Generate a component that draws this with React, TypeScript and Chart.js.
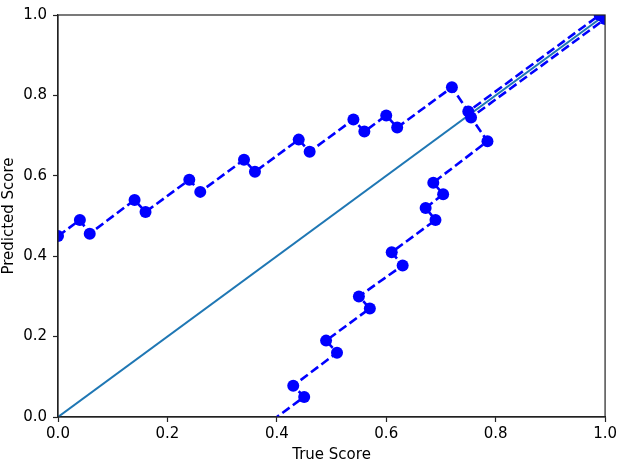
import React, { useEffect, useRef } from "react";
import { Chart, registerables } from "chart.js";

Chart.register(...registerables);

// Dashed trajectory (true score vs predicted score)
const trueScores = [
  0.0, 0.04, 0.058, 0.14, 0.16, 0.24, 0.26, 0.34, 0.36, 0.44, 0.46, 0.54, 0.56, 0.6, 0.62,
  0.72, 0.75, 0.99, 1.0, 0.755, 0.785, 0.686, 0.704, 0.672, 0.69, 0.61, 0.63, 0.55, 0.57,
  0.49, 0.51, 0.43, 0.45, 0.4,
];
const predScores = [
  0.45, 0.49, 0.456, 0.54, 0.51, 0.59, 0.56, 0.64, 0.61, 0.69, 0.66, 0.74, 0.71, 0.75, 0.72,
  0.82, 0.76, 1.0, 0.99, 0.745, 0.686, 0.583, 0.554, 0.52, 0.49, 0.41, 0.377, 0.3, 0.27,
  0.19, 0.16, 0.078, 0.05, 0.0,
];
// Reference diagonal
const diagX = [0, 1];
const diagY = [0, 1];
const tickValues = [0, 0.2, 0.4, 0.6, 0.8, 1.0];

const FONT = "'DejaVu Sans', sans-serif";
const SPINE = "#222";

const framePlugin = {
  id: "frame",
  afterDatasetsDraw(chart: any) {
    const { ctx, chartArea } = chart;
    ctx.save();
    ctx.strokeStyle = SPINE;
    ctx.lineWidth = 1.2;
    ctx.strokeRect(chartArea.left, chartArea.top, chartArea.right - chartArea.left, chartArea.bottom - chartArea.top);
    ctx.restore();
  },
};

export default function App() {
  const ref = useRef<HTMLCanvasElement | null>(null);

  useEffect(() => {
    document.body.style.margin = "0";
    const canvas = ref.current;
    if (!canvas) return;
    const pathData = trueScores.map((x, i) => ({ x, y: predScores[i] }));
    const diagData = diagX.map((x, i) => ({ x, y: diagY[i] }));

    const axisCommon = (title: string, pad: number) => ({
      type: "linear" as const,
      min: 0,
      max: 1,
      afterBuildTicks: (scale: any) => {
        scale.ticks = tickValues.map((v) => ({ value: v }));
      },
      ticks: {
        color: "#000",
        font: { family: FONT, size: 15 },
        padding: pad,
        callback: (v: any) => Number(v).toFixed(1),
        maxRotation: 0,
        autoSkip: false,
      },
      grid: {
        drawOnChartArea: false,
        drawTicks: true,
        tickLength: 5,
        tickWidth: 1.2,
        color: SPINE,
      },
      border: { display: true, color: SPINE, width: 1.2 },
      title: {
        display: true,
        text: title,
        color: "#000",
        font: { family: FONT, size: 15, lineHeight: 1 },
        padding: { top: 2, bottom: 0 },
      },
    });

    const chart = new Chart(canvas, {
      type: "line",
      data: {
        datasets: [
          {
            data: pathData,
            borderColor: "#0000ff",
            backgroundColor: "#0000ff",
            borderWidth: 2.6,
            borderDash: [9, 4],
            pointRadius: (c: any) => (c.parsed && c.parsed.y <= 0 ? 0 : 6),
            pointBorderWidth: 0,
            pointHoverRadius: 6,
            tension: 0,
            fill: false,
          },
          {
            data: diagData,
            borderColor: "#1f77b4",
            borderWidth: 2,
            pointRadius: 0,
            tension: 0,
            fill: false,
          },
        ],
      },
      options: {
        animation: false,
        responsive: false,
        maintainAspectRatio: false,
        layout: { padding: { top: 7, right: 14, left: 0, bottom: 0 } },
        plugins: { legend: { display: false }, tooltip: { enabled: false } },
        scales: {
          x: {
            ...axisCommon("True Score", 3),
            afterFit: (s: any) => {
              s.height = 46;
            },
          },
          y: {
            ...axisCommon("Predicted Score", 6),
            afterFit: (s: any) => {
              s.width = 58;
            },
          },
        },
      },
      plugins: [framePlugin],
    });
    return () => chart.destroy();
  }, []);

  return (
    <div style={{ position: "fixed", left: 0, top: 0, width: 620, height: 463 }}>
      <canvas ref={ref} width={620} height={463} style={{ width: 620, height: 463 }} />
    </div>
  );
}
